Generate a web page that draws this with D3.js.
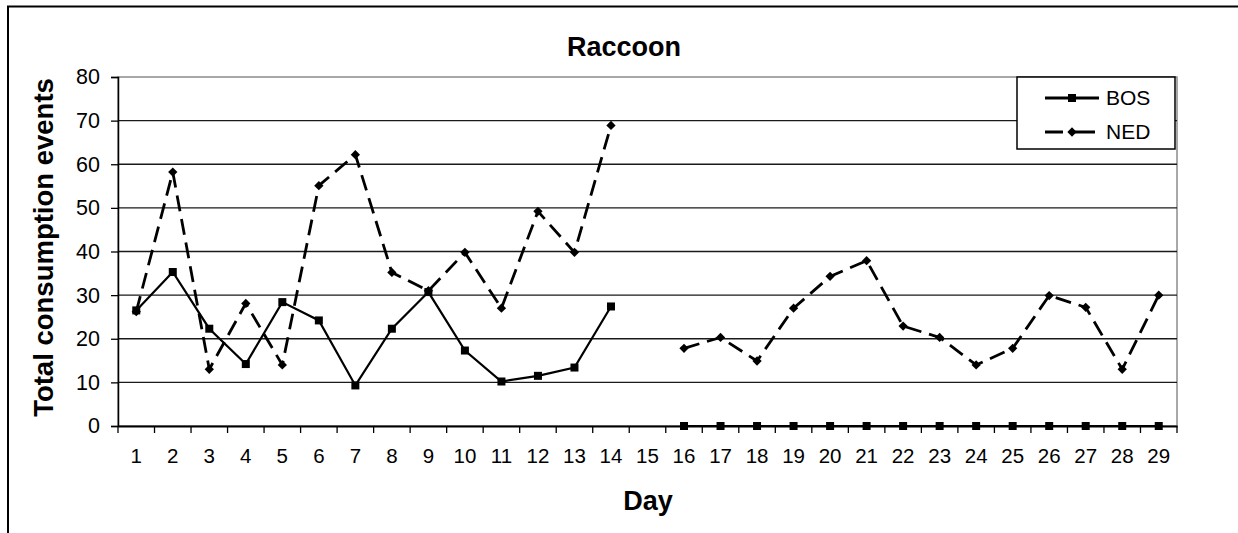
<!DOCTYPE html>
<html>
<head>
<meta charset="utf-8">
<script src="https://cdn.jsdelivr.net/npm/d3@7"></script>
<style>
  body { margin: 0; background: #fff; }
  svg { font-family: "Liberation Sans", Arial, sans-serif; }
</style>
</head>
<body>
<svg id="chart" width="1238" height="533"></svg>
<script>
// data (day 15 has no values)
var days = ["1","2","3","4","5","6","7","8","9","10","11","12","13","14","15",
            "16","17","18","19","20","21","22","23","24","25","26","27","28","29"];
var bos = [26.5, 35.3, 22.3, 14.2, 28.4, 24.2, 9.3, 22.3, 30.7, 17.3, 10.2, 11.5, 13.4, 27.4, null,
           0, 0, 0, 0, 0, 0, 0, 0, 0, 0, 0, 0, 0, 0];
var ned = [26.2, 58.2, 13.0, 28.1, 14.0, 55.1, 62.2, 35.2, 31.0, 39.8, 27.0, 49.2, 39.8, 68.9, null,
           17.8, 20.3, 14.9, 27.0, 34.3, 37.9, 22.9, 20.3, 14.0, 17.8, 29.9, 27.2, 13.0, 30.0];
var yTicks = [0, 10, 20, 30, 40, 50, 60, 70, 80];

var svg = d3.select("#chart"),
    margin = {top: 77, right: 61, bottom: 107, left: 118},
    width = +svg.attr("width") - margin.left - margin.right,
    height = +svg.attr("height") - margin.top - margin.bottom;

// outer frame (right and bottom edges fall outside the picture)
svg.append("rect")
    .attr("x", 8).attr("y", 6.5)
    .attr("width", 1300).attr("height", 600)
    .attr("fill", "none").attr("stroke", "#000").attr("stroke-width", 2);

var x = d3.scaleBand().domain(days).range([0, width]).padding(0),
    y = d3.scaleLinear().domain([0, 80]).range([height, 0]);

var g = svg.append("g")
    .attr("transform", "translate(" + margin.left + "," + margin.top + ")");

// plot area border
g.append("rect")
    .attr("width", width).attr("height", height)
    .attr("fill", "none").attr("stroke", "#8c8c8c").attr("stroke-width", 1.5);

// gridlines
g.selectAll(".grid")
    .data(yTicks.filter(function(d) { return d > 0 && d < 80; }))
    .enter().append("line")
    .attr("x1", 0).attr("x2", width)
    .attr("y1", function(d) { return y(d); })
    .attr("y2", function(d) { return y(d); })
    .attr("stroke", "#1a1a1a").attr("stroke-width", 1.3);

// y axis
var yAxis = g.append("g")
    .call(d3.axisLeft(y).tickValues(yTicks).tickSize(7).tickPadding(11));
yAxis.select(".domain").attr("stroke-width", 1.5);
yAxis.selectAll("line").attr("stroke-width", 1.3);
yAxis.selectAll("text").attr("font-size", 21.5).attr("fill", "#000")
    .attr("font-family", "Liberation Sans, Arial, sans-serif");

// x axis labels
var xAxis = g.append("g")
    .attr("transform", "translate(0," + height + ")")
    .call(d3.axisBottom(x).tickSize(0).tickPadding(22));
xAxis.select(".domain").attr("stroke-width", 1.8);
xAxis.selectAll("text").attr("font-size", 20.5).attr("fill", "#000")
    .attr("font-family", "Liberation Sans, Arial, sans-serif");

// x tick marks sit between categories
g.selectAll(".xtick")
    .data(days.concat(["end"]))
    .enter().append("line")
    .attr("x1", function(d) { return d === "end" ? width : x(d); })
    .attr("x2", function(d) { return d === "end" ? width : x(d); })
    .attr("y1", height).attr("y2", height + 7)
    .attr("stroke", "#000").attr("stroke-width", 1.3);

var line = function(vals) {
    return d3.line()
        .defined(function(d) { return d != null; })
        .x(function(d, i) { return x(days[i]) + x.bandwidth() / 2; })
        .y(function(d) { return y(d); })(vals);
};

// NED dashed
g.append("path")
    .attr("d", line(ned))
    .attr("fill", "none").attr("stroke", "#000")
    .attr("stroke-width", 2.8).attr("stroke-dasharray", "16,8");

g.selectAll(".ned")
    .data(ned.map(function(v, i) { return {day: days[i], v: v}; })
        .filter(function(d) { return d.v != null; }))
    .enter().append("path")
    .attr("d", d3.symbol().type(d3.symbolDiamond2).size(55))
    .attr("transform", function(d) {
        return "translate(" + (x(d.day) + x.bandwidth() / 2) + "," + y(d.v) + ")";
    })
    .attr("fill", "#000");

// BOS solid
g.append("path")
    .attr("d", line(bos))
    .attr("fill", "none").attr("stroke", "#000").attr("stroke-width", 2.2);

g.selectAll(".bos")
    .data(bos.map(function(v, i) { return {day: days[i], v: v}; })
        .filter(function(d) { return d.v != null; }))
    .enter().append("rect")
    .attr("x", function(d) { return x(d.day) + x.bandwidth() / 2 - 4; })
    .attr("y", function(d) { return y(d.v) - 4; })
    .attr("width", 8).attr("height", 8)
    .attr("fill", "#000");

// title
svg.append("text")
    .attr("x", 624).attr("y", 56)
    .attr("text-anchor", "middle")
    .attr("font-size", 27).attr("font-weight", "bold")
    .text("Raccoon");

// axis titles
svg.append("text")
    .attr("x", 648).attr("y", 510)
    .attr("text-anchor", "middle")
    .attr("font-size", 27).attr("font-weight", "bold")
    .text("Day");

svg.append("text")
    .attr("transform", "translate(53," + (margin.top + height / 2 - 4) + ") rotate(-90)")
    .attr("text-anchor", "middle")
    .attr("font-size", 27.5).attr("font-weight", "bold")
    .text("Total consumption events");

// legend
var legend = svg.append("g").attr("transform", "translate(1017,77)");
legend.append("rect")
    .attr("width", 158).attr("height", 72)
    .attr("fill", "#fff").attr("stroke", "#000").attr("stroke-width", 1.5);

var series = [
    {name: "BOS", dash: null, marker: "square"},
    {name: "NED", dash: "18,9,30", marker: "diamond"}
];
series.forEach(function(s, i) {
    var cy = 21 + i * 34;
    legend.append("line")
        .attr("x1", 28).attr("x2", i ? 78 : 82).attr("y1", cy).attr("y2", cy)
        .attr("stroke", "#000").attr("stroke-width", 2.8)
        .attr("stroke-dasharray", s.dash);
    if (s.marker === "square") {
        legend.append("rect")
            .attr("x", 51).attr("y", cy - 4).attr("width", 8).attr("height", 8)
            .attr("fill", "#000");
    } else {
        legend.append("path")
            .attr("d", d3.symbol().type(d3.symbolDiamond2).size(55))
            .attr("transform", "translate(55," + cy + ")")
            .attr("fill", "#000");
    }
    legend.append("text")
        .attr("x", 89).attr("y", cy + 7)
        .attr("font-size", 21)
        .text(s.name);
});
</script>
</body>
</html>
